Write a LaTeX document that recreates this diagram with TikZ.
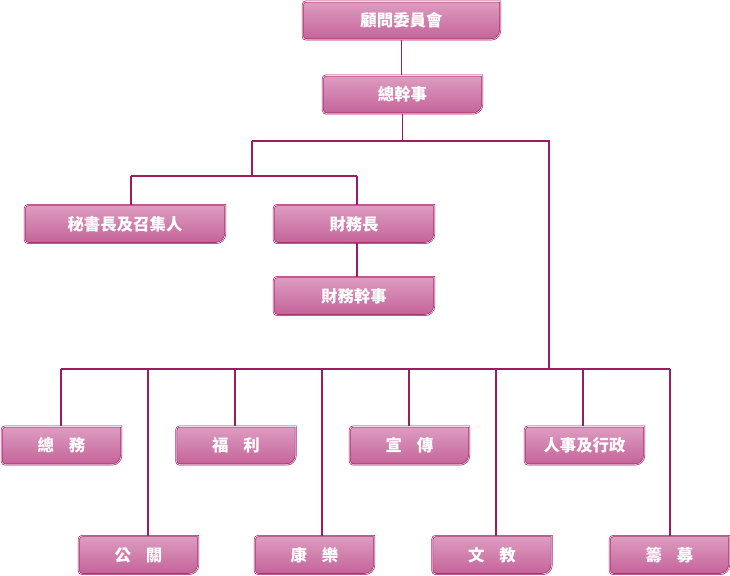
\documentclass[tikz,border=0pt]{standalone}
\usepackage{fontspec}
\newfontfamily\cjk{Noto Sans CJK TC}
\usetikzlibrary{backgrounds}
\definecolor{boxline}{HTML}{A0185E}
\definecolor{boxtop}{HTML}{DE9DC1}
\definecolor{boxbot}{HTML}{C46399}
\definecolor{wirecol}{HTML}{9C1C5E}
\newcommand\gap{\hspace{.9em}}
\tikzstyle{unit}=[text=white,font=\cjk\bfseries\fontsize{14}{14}\selectfont,minimum height=1.13cm,inner sep=0pt]
\tikzstyle{dept}=[unit,minimum width=3.57cm]
\tikzstyle{wire}=[draw=wirecol,line width=.9pt]
\tikzstyle{plate}=[draw=boxline,line width=.5pt,double=boxtop!35,double distance=.55pt,top color=boxtop,bottom color=boxbot]

\begin{document}
\begin{tikzpicture}[x=0.03cm,y=-0.03cm]
	\useasboundingbox (0,0) rectangle (730,575);
	% top of the chart
	\node[unit,minimum width=5.91cm] (adv)  at (401.5,20.5)  {顧問委員會};
	\node[unit,minimum width=4.77cm] (gs)   at (402.5,94.5)  {總幹事};
	\node[unit,minimum width=6cm]    (sec)  at (125,224)     {秘書長及召集人};
	\node[unit,minimum width=4.8cm]  (fin)  at (354,224)     {財務長};
	\node[unit,minimum width=4.8cm]  (fina) at (354,296)     {財務幹事};
	% departments
	\node[dept] (gen)  at (61.5,445.5)  {總\gap 務};
	\node[dept] (wel)  at (236,445.5)   {福\gap 利};
	\node[dept] (pub)  at (409.5,445.5) {宣\gap 傳};
	\node[dept] (hr)   at (584.5,445.5) {人事及行政};
	\node[dept] (pr)   at (138.5,555)   {公\gap 關};
	\node[dept] (rec)  at (314.5,555)   {康\gap 樂};
	\node[dept] (edu)  at (492,555)     {文\gap 教};
	\node[dept] (fund) at (669.5,555)   {籌\gap 募};
	\begin{pgfonlayer}{background}
	\foreach \n in {adv,gs,sec,fin,fina,gen,wel,pub,hr,pr,rec,edu,fund}
		\path[plate] ([yshift=-3pt]\n.north west) arc[start angle=180,end angle=90,radius=3pt]
			-- (\n.north east) -- ([yshift=8pt]\n.south east) arc[start angle=0,end angle=-90,radius=8pt]
			-- ([xshift=3pt]\n.south west) arc[start angle=270,end angle=180,radius=3pt] -- cycle;
	\end{pgfonlayer}
	% bus lines
	\coordinate (tl) at (252,141);
	\coordinate (tr) at (549,141);
	\coordinate (ml) at (131,176);
	\coordinate (mr) at (357,176);
	\coordinate (bl) at (61,369);
	\coordinate (br) at (670,369);
	\draw[wire] (adv.south) -- (adv.south |- gs.north);
	\draw[wire] (gs.south) -- (gs.south |- tl);
	\draw[wire] (tl) -- (tr) -- (tr |- bl);
	\draw[wire] (tl) -- (tl |- ml);
	\draw[wire] (ml) -- (mr);
	\draw[wire] (ml) -- (ml |- sec.north);
	\draw[wire] (mr) -- (mr |- fin.north);
	\draw[wire] (mr |- fin.south) -- (mr |- fina.north);
	\draw[wire] (bl) -- (br);
	\foreach \n/\x [count=\i] in {gen/61,pr/148,wel/235,rec/322,pub/409,edu/496,hr/583,fund/670} {
		\coordinate (d\i) at (\x,369);
		\draw[wire] (d\i) -- (d\i |- \n.north);
	}
\end{tikzpicture}
\end{document}
